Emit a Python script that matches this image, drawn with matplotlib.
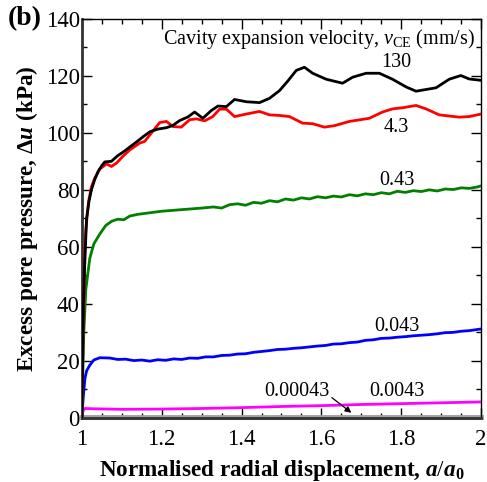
import numpy as np
import matplotlib
matplotlib.use('Agg')
import matplotlib.pyplot as plt
from matplotlib.ticker import MultipleLocator

plt.rcParams['font.family'] = 'Liberation Serif'
plt.rcParams['mathtext.fontset'] = 'custom'
plt.rcParams['mathtext.rm'] = 'Liberation Serif'
plt.rcParams['mathtext.it'] = 'Liberation Serif:italic'
plt.rcParams['mathtext.bf'] = 'Liberation Serif:bold'
plt.rcParams['mathtext.bfit'] = 'Liberation Serif:italic:bold'

# v_CE = 130 mm/s
x_130 = [1.0, 1.004, 1.0075, 1.012, 1.018, 1.024, 1.032, 1.041, 1.05, 1.0575, 1.074, 1.09, 1.103,
         1.12, 1.137, 1.155, 1.171, 1.19, 1.212, 1.228, 1.245, 1.266, 1.2825, 1.303, 1.324, 1.341,
         1.362, 1.3825, 1.412, 1.445, 1.47, 1.495, 1.516, 1.537, 1.5575, 1.578, 1.612, 1.653, 1.678,
         1.712, 1.745, 1.778, 1.812, 1.837, 1.887, 1.92, 1.949, 1.97, 2.0]
y_130 = [0, 40, 55, 70, 76, 80, 83.5, 86.5, 88.5, 89.8, 90, 92, 93.2,
         95, 96.8, 98.8, 100.4, 101.3, 101.8, 102.6, 104.3, 105.6, 107.3, 105.1, 107.8, 109.4,
         109.2, 111.7, 110.9, 110.6, 112.1, 114.8, 118.2, 121.9, 123, 120.9, 118.8, 117.4, 119.5,
         120.9, 120.9, 118.8, 116.1, 114.6, 115.8, 118.8, 120.1, 118.9, 118.4]

# v_CE = 4.3 mm/s
x_43 = [1.0, 1.003, 1.005, 1.008, 1.01, 1.017, 1.024, 1.032, 1.045, 1.062, 1.074, 1.087, 1.103,
        1.12, 1.145, 1.1575, 1.174, 1.195, 1.212, 1.228, 1.249, 1.27, 1.287, 1.3075, 1.328, 1.345,
        1.362, 1.3825, 1.412, 1.445, 1.47, 1.495, 1.52, 1.553, 1.578, 1.6075, 1.6325, 1.67, 1.72,
        1.753, 1.778, 1.803, 1.837, 1.862, 1.895, 1.945, 1.97, 2.0]
y_43 = [0, 30, 40, 60, 66, 76, 81, 84, 87.3, 89.1, 88.2, 89.4, 91.8,
        94, 96.4, 97, 99.9, 103.6, 104, 102.2, 102, 104.6, 104.9, 104.2, 105.7, 108.3,
        108.3, 105.7, 106.6, 107.5, 106.3, 106.1, 105.7, 103.4, 103.2, 102, 102.5, 104, 105.1,
        107.3, 108.4, 108.8, 109.6, 108.4, 106.3, 105.5, 105.7, 106.6]

# v_CE = 0.43 mm/s
x_043 = [1.0, 1.005, 1.01, 1.02, 1.03, 1.045, 1.06, 1.075, 1.09, 1.105, 1.12, 1.14, 1.2, 1.3,
         1.33, 1.35, 1.37, 1.39, 1.41, 1.43, 1.45, 1.47, 1.49, 1.51, 1.53, 1.55, 1.57, 1.59, 1.61,
         1.63, 1.65, 1.67, 1.69, 1.71, 1.73, 1.75, 1.77, 1.79, 1.81, 1.83, 1.85, 1.87, 1.89, 1.91,
         1.93, 1.95, 1.97, 1.99, 2.0]
y_043 = [0, 30, 45, 56, 61, 64.5, 67.5, 69, 69.7, 69.5, 70.8, 71.4, 72.5, 73.6,
         74, 73.6, 74.8, 75.1, 74.6, 75.6, 75.3, 76.2, 75.8, 76.8, 76.4, 77.2, 76.8, 77.6, 77.2,
         77.8, 77.5, 78.3, 77.9, 78.6, 78.3, 79, 78.6, 79.5, 79.1, 79.7, 79.4, 80, 79.6, 80.3,
         80.1, 80.7, 80.5, 81, 81.4]

# v_CE = 0.043 mm/s
x_0043 = [1.0, 1.004, 1.008, 1.012, 1.02, 1.03, 1.045, 1.07, 1.09, 1.11, 1.13, 1.15, 1.17, 1.19,
          1.21, 1.23, 1.25, 1.27, 1.29, 1.31, 1.33, 1.35, 1.37, 1.39, 1.41, 1.43, 1.45, 1.47, 1.49,
          1.51, 1.53, 1.55, 1.57, 1.59, 1.61, 1.63, 1.65, 1.67, 1.69, 1.71, 1.73, 1.75, 1.77, 1.79,
          1.81, 1.83, 1.85, 1.87, 1.89, 1.91, 1.93, 1.95, 1.97, 2.0]
y_0043 = [0, 8, 14, 16.5, 18.5, 20.3, 21.1, 21, 20.5, 20.6, 20.1, 20.3, 19.9, 20.4,
          20.2, 20.7, 20.5, 21, 20.9, 21.4, 21.4, 21.9, 22, 22.4, 22.5, 23, 23.3, 23.6, 24,
          24.1, 24.4, 24.6, 24.9, 25.2, 25.4, 25.9, 26, 26.4, 26.6, 27.2, 27.4, 27.9, 28, 28.3,
          28.5, 28.8, 29, 29.2, 29.5, 29.9, 30, 30.4, 30.6, 31.2]

# v_CE = 0.0043 mm/s
x_00043 = [1.0, 1.003, 1.008, 1.03, 1.1, 1.2, 1.3, 1.4, 1.5, 1.6, 1.7, 1.8, 1.9, 2.0]
y_00043 = [0, 2.5, 3.3, 3.2, 3.0, 3.1, 3.3, 3.6, 4.0, 4.3, 4.7, 5.0, 5.3, 5.6]

# v_CE = 0.00043 mm/s
x_000043 = [1.0, 2.0]
y_000043 = [0.4, 0.4]

fig = plt.figure(figsize=(4.87, 4.82), dpi=100)
ax = fig.add_axes([0.168, 0.133, 0.82, 0.828])

ax.plot(x_000043, y_000043, color='#a0a0a0', lw=3.5, zorder=2, clip_on=False)
ax.plot(x_00043, y_00043, color='#ff00ff', lw=2, zorder=3)
ax.plot(x_0043, y_0043, color='#0000ff', lw=2, zorder=3)
ax.plot(x_043, y_043, color='#008000', lw=2, zorder=3)
ax.plot(x_43, y_43, color='#ff0000', lw=2, zorder=3)
ax.plot(x_130, y_130, color='black', lw=2, zorder=4)

ax.set_xlim(1, 2)
ax.set_ylim(0, 140)
ax.xaxis.set_major_locator(MultipleLocator(0.2))
ax.xaxis.set_minor_locator(MultipleLocator(0.05))
ax.yaxis.set_major_locator(MultipleLocator(20))
ax.yaxis.set_minor_locator(MultipleLocator(10))
ax.set_xticks([1, 1.2, 1.4, 1.6, 1.8, 2])
ax.set_xticklabels(['1', '1.2', '1.4', '1.6', '1.8', '2'])
ax.tick_params(which='both', direction='in', top=True, right=True, labelsize=16.5, color='black')
ax.tick_params(which='major', length=7, width=1)
ax.tick_params(which='minor', length=3.5, width=1)
ax.tick_params(axis='x', which='major', pad=8)
ax.tick_params(axis='y', which='major', pad=1.5)

for s in ['top', 'right']:
    ax.spines[s].set_linewidth(1)
for s in ['left', 'bottom']:
    ax.spines[s].set_linewidth(2)
    ax.spines[s].set_color('#333333')

ax.set_xlabel(r'Normalised radial displacement, $\mathbfit{a}/\mathbfit{a}_\mathbf{0}$',
              fontsize=16.7, fontweight='bold', labelpad=6)
ax.set_ylabel(r'Excess pore pressure, $\mathbf{\Delta}\mathbfit{u}$ (kPa)',
              fontsize=16.7, fontweight='bold', labelpad=4)

ax.text(1.985, 133, r'Cavity expansion velocity, $\mathit{v}_\mathrm{CE}$ (mm/s)',
        fontsize=14.5, ha='right', va='center')
ax.text(1.7875, 124.5, '130', fontsize=14.5, ha='center', va='center')
ax.text(1.7875, 101.8, '4.3', fontsize=14.5, ha='center', va='center')
ax.text(1.79, 83.2, '0.43', fontsize=14.5, ha='center', va='center')
ax.text(1.79, 32.2, '0.043', fontsize=14.5, ha='center', va='center')
ax.text(1.79, 9.4, '0.0043', fontsize=14.5, ha='center', va='center')
ax.annotate('0.00043', xy=(1.675, 1.8), xytext=(1.5375, 9.4), fontsize=14.5,
            ha='center', va='center', zorder=6,
            arrowprops=dict(arrowstyle='-|>', color='black', lw=0.9,
                            shrinkA=0, shrinkB=0, mutation_scale=9,
                            relpos=(0.97, 0.35)))

fig.text(0.015, 0.962, '(b)', fontsize=20, fontweight='bold', ha='left', va='center')

fig.savefig('out.png', dpi=100)
